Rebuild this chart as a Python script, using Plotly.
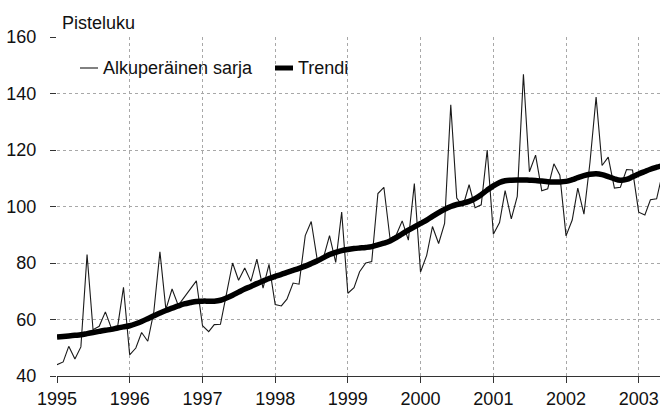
import pandas as pd
import plotly.graph_objects as go

# Monthly values, January 1995 onwards
original = [
    44, 45, 50.5, 46, 50.3, 83, 56.4, 57.6, 62.7, 56.9, 57.2, 71.4,          # 1995
    47.5, 49.9, 55.4, 52.3, 62.5, 84, 63.6, 70.8, 65, 68, 71, 73.7,          # 1996
    57.8, 55.7, 58.2, 58.3, 69, 80, 73.9, 78.2, 73.5, 81.4, 71.1, 79.5,      # 1997
    65.3, 64.8, 67.2, 72.9, 72.5, 89.7, 94.7, 80.8, 82, 89.7, 80.2, 98,      # 1998
    69.3, 71.3, 76.9, 80, 80.5, 104.6, 106.8, 88.6, 89.9, 94.9, 88.1, 108.1, # 1999
    76.8, 82.7, 92.9, 86.9, 94, 136, 103, 100, 107.7, 99.6, 100.6, 120,      # 2000
    90.2, 94.3, 105.6, 95.6, 103.6, 146.8, 112.3, 118.2, 105.6, 106.3, 115.1, 111.1,  # 2001
    89.6, 95.2, 106.5, 97.3, 115.5, 138.7, 114.5, 117.5, 106.5, 106.8, 113.1, 112.9,  # 2002
    98, 97, 102.4, 102.7, 112,                                               # 2003
]
trend = [
    53.8, 54.0, 54.2, 54.4, 54.6, 55.0, 55.4, 55.8, 56.2, 56.5, 57.0, 57.4,
    57.8, 58.5, 59.3, 60.3, 61.3, 62.3, 63.2, 64.0, 64.8, 65.5, 66.0, 66.4,
    66.5, 66.5, 66.5, 66.8, 67.6, 68.6, 69.7, 70.8, 71.7, 72.7, 73.6, 74.5,
    75.3, 76.0, 76.7, 77.4, 78.1, 78.9, 79.8, 80.8, 81.9, 83.0, 83.8, 84.4,
    84.8, 85.1, 85.3, 85.5, 85.8, 86.4, 87.0, 87.8, 89.0, 90.3, 91.6, 92.8,
    94.0, 95.2, 96.5, 97.8, 99.0, 100.0, 100.7, 101.2, 101.8, 102.8, 104.2, 105.8,
    107.3, 108.5, 109.1, 109.3, 109.4, 109.4, 109.3, 109.2, 109.0, 108.8, 108.7, 108.7,
    108.9, 109.5, 110.2, 110.9, 111.4, 111.6, 111.3, 110.6, 109.8, 109.3, 109.6, 110.5,
    111.5, 112.4, 113.2, 113.9, 114.5,
]
dates = pd.date_range("1995-01-01", periods=len(original), freq="MS")
y_ticks = [40, 60, 80, 100, 120, 140, 160]
series_names = ["Alkuperäinen sarja", "Trendi"]
y_title = "Pisteluku"

FONT = "Liberation Sans, Arial, sans-serif"
W, H = 660, 414
L, R, T, B = 57, 0, 37, 38
PW, PH = W - L - R, H - T - B


def px(xp):
    return (xp - L) / PW


def py(yp):
    return (H - B - yp) / PH


fig = go.Figure()
fig.add_trace(go.Scatter(x=dates, y=original, mode="lines", name=series_names[0],
                         line=dict(color="#1a1a1a", width=1.1), showlegend=False))
fig.add_trace(go.Scatter(x=dates, y=trend, mode="lines", name=series_names[1],
                         line=dict(color="#000000", width=5.5, shape="spline"),
                         showlegend=False))

# hand-drawn legend (short line samples as in the reference)
leg_y = py(68)
shapes = [
    dict(type="line", xref="paper", yref="paper", x0=px(80), x1=px(98), y0=leg_y, y1=leg_y,
         line=dict(color="#1a1a1a", width=1.1)),
    dict(type="line", xref="paper", yref="paper", x0=px(275), x1=px(293), y0=leg_y, y1=leg_y,
         line=dict(color="#000000", width=5)),
]
annotations = [
    dict(text=series_names[0], xref="paper", yref="paper", x=px(101), y=leg_y,
         xanchor="left", yanchor="middle", showarrow=False, font=dict(size=18)),
    dict(text=series_names[1], xref="paper", yref="paper", x=px(296), y=leg_y,
         xanchor="left", yanchor="middle", showarrow=False, font=dict(size=18)),
    dict(text=y_title, xref="paper", yref="paper", x=0, y=1,
         xanchor="left", yanchor="bottom", xshift=3, yshift=2,
         showarrow=False, font=dict(size=18)),
]

fig.update_layout(
    width=W, height=H,
    margin=dict(l=L, r=R, t=T, b=B, autoexpand=False),
    paper_bgcolor="white", plot_bgcolor="white",
    font=dict(family=FONT, size=18, color="#111"),
    showlegend=False,
    shapes=shapes,
    annotations=annotations,
)
fig.update_xaxes(
    type="date", range=["1995-01-01", "2003-04-18"],
    dtick="M12", tick0="1995-01-01", tickformat="%Y",
    showgrid=True, gridcolor="#a8a8a8", griddash="dot", gridwidth=1,
    ticks="outside", ticklen=6, tickcolor="#333",
    showline=True, linecolor="#333", linewidth=1,
    zeroline=False, automargin=False,
)
fig.update_yaxes(
    range=[40, 160], tickvals=y_ticks,
    showgrid=True, gridcolor="#a8a8a8", griddash="dot", gridwidth=1,
    ticks="outside", ticklen=6, tickcolor="#333", ticklabelstandoff=10,
    showline=False, zeroline=False, automargin=False,
)
fig.write_html(
    "out.html",
    config={"displayModeBar": False},
    post_script="document.body.style.margin='0';document.body.style.overflow='hidden';",
)
